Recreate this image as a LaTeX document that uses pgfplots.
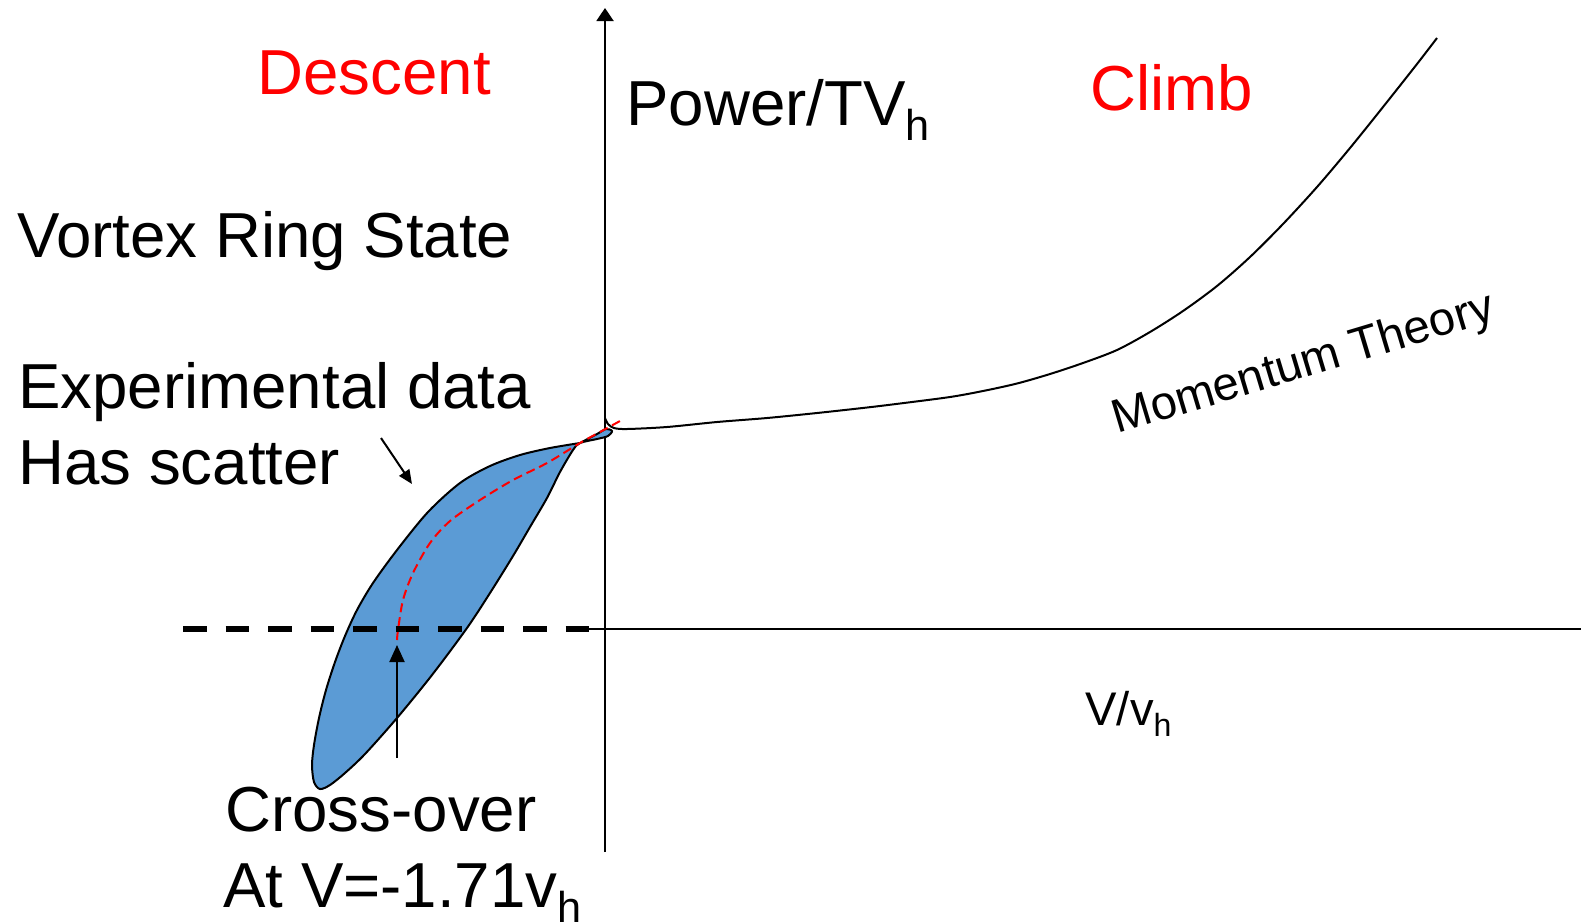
\documentclass[border=0pt]{standalone}
\usepackage{fontspec}
\setmainfont{Liberation Sans}
\usepackage{graphicx}
\usepackage{pgfplots}
\pgfplotsset{compat=1.18}
\usetikzlibrary{arrows.meta}
\definecolor{blobblue}{RGB}{91,155,213}
\definecolor{pred}{RGB}{255,0,0}
\newcommand{\sub}[1]{\raisebox{-0.24em}{\scalebox{0.68}{#1}}}
\newcommand{\bigtxt}{\fontsize{31.8}{38}\selectfont}
\newcommand{\midtxt}{\fontsize{23.6}{28}\selectfont}
\begin{document}
\begin{tikzpicture}
\begin{axis}[at={(0,0)}, anchor=south west, scale only axis,
  width=790.5pt, height=461.5pt,
  xmin=0, xmax=1581, ymin=0, ymax=923, y dir=reverse,
  hide axis, clip=false, no markers]
\coordinate (A) at (rel axis cs:0,0);
\coordinate (B) at (rel axis cs:1,1);
% axes
\addplot[black, line width=1pt, -{Triangle[length=6.5pt,width=8.5pt]}] coordinates {(605,852) (605,8)};
\addplot[black, line width=1pt] coordinates {(588,629) (1581,629)};
% momentum theory curve
\addplot[black, line width=1pt, smooth] coordinates {
(605,418) (608,424) (614,428) (627,429) (667,427) (717,422) (767,418)
(817,413) (867,407.5) (900,403.5) (950,397) (983,391) (1017,383.5)
(1050,374) (1083,363) (1117,350) (1150,332) (1183,311) (1217,286)
(1250,257) (1283,224) (1317,187) (1350,148) (1383,107) (1417,64) (1437,38)};
% experimental scatter band
\addplot[draw=black, line width=1pt, fill=blobblue, smooth] coordinates {
(580,443) (597,434) (606,429) (612,431) (608,436) (597,439) (580,443)
(573,450) (560,472) (547,498) (530,527) (513,556) (490,593) (467,628)
(432,675) (397,718) (365,754) (345,773) (330,785) (320,789) (314,782)
(312,765) (314,745) (319,718) (326,690) (335,662) (345,636) (357,610)
(373,583) (397,550) (428,512) (460,483) (490,466) (520,455) (550,448) (580,443)};
% red dashed mean curve
\addplot[pred, line width=1pt, smooth, dash pattern=on 4.5pt off 2.5pt] coordinates {
(397,640) (398,630) (403,600) (413,573) (430,543) (450,521) (480,500)
(513,480) (547,463) (580,443) (600,432) (620,421)};
% dashed horizontal
\addplot[black, line width=2.7pt, dash pattern=on 11.75pt off 9.5pt] coordinates {(183,629) (589,629)};
% arrows
\addplot[black, line width=1pt, -{Triangle[length=8.5pt,width=7.5pt]}] coordinates {(397,758) (397,645)};
\addplot[black, line width=1pt, -{Triangle[length=7pt,width=6pt]}] coordinates {(381,438) (412,484)};
% texts
\node[anchor=base west, inner sep=0, font=\bigtxt, text=pred] at (axis cs:257,94) {Descent};
\node[anchor=base west, inner sep=0, font=\bigtxt, text=pred] at (axis cs:1090,110) {Climb};
\node[anchor=base west, inner sep=0, font=\bigtxt] at (axis cs:626,125) {Power/TV\sub{h}};
\node[anchor=base west, inner sep=0, font=\bigtxt] at (axis cs:17,257) {Vortex Ring State};
\node[anchor=base west, inner sep=0, font=\bigtxt] at (axis cs:18,408) {Experimental data};
\node[anchor=base west, inner sep=0, font=\bigtxt] at (axis cs:18,484) {Has scatter};
\node[anchor=base west, inner sep=0, font=\bigtxt] at (axis cs:225,831) {Cross-over};
\node[anchor=base west, inner sep=0, font=\bigtxt] at (axis cs:223,907) {At V=-1.71v\sub{h}};
\node[anchor=base west, inner sep=0, font=\midtxt] at (axis cs:1085,725) {V/v\sub{h}};
\node[anchor=base west, inner sep=0, font=\midtxt, rotate=16.7] at (axis cs:1117,434) {Momentum Theory};
\end{axis}
\pgfresetboundingbox
\useasboundingbox (A) rectangle (B);
\end{tikzpicture}
\end{document}
